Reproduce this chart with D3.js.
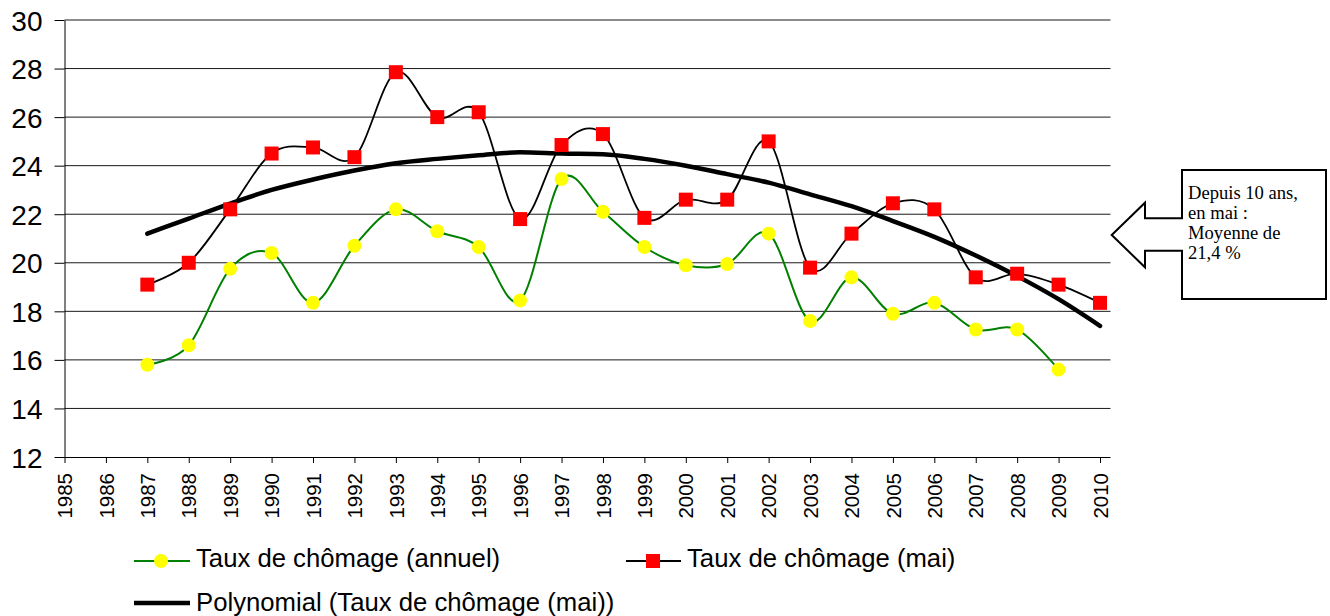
<!DOCTYPE html>
<html><head><meta charset="utf-8">
<script src="https://cdn.jsdelivr.net/npm/d3@7/dist/d3.min.js"></script>
<style>body{margin:0;background:#fff}svg{display:block}</style>
</head><body>
<svg id="c" width="1330" height="616"></svg>
<script>
const years = d3.range(1985, 2011);
const yTicks = [12,14,16,18,20,22,24,26,28,30];
const annualYears = d3.range(1987, 2010);
const annual = [15.8,16.6,19.75,20.4,18.35,20.7,22.2,21.3,20.65,18.45,23.45,22.1,20.65,19.9,19.95,21.2,17.6,19.4,17.9,18.35,17.25,17.25,15.6];
const maiYears = d3.range(1987, 2011);
const mai = [19.1,20.0,22.2,24.5,24.75,24.35,27.85,26.0,26.2,21.8,24.85,25.3,21.85,22.6,22.6,25.0,19.8,21.2,22.45,22.2,19.4,19.55,19.1,18.35];
const trend = [21.2,21.82,22.44,23.0,23.43,23.8,24.1,24.28,24.43,24.55,24.5,24.47,24.28,24.0,23.65,23.3,22.82,22.33,21.72,21.07,20.3,19.45,18.5,17.4];
const legendLabels = ["Taux de chômage (annuel)","Taux de chômage (mai)","Polynomial (Taux de chômage (mai))"];
const calloutLines = ["Depuis 10 ans,","en mai :","Moyenne de","21,4 %"];

const svg = d3.select("#c");
const x = d3.scaleLinear().domain([1985, 2010]).range([64.5, 1100]);
const y = d3.scaleLinear().domain([12, 30]).range([457, 20]);
const xEnd = 1110.5;

// gridlines
svg.append("g").selectAll("line").data(yTicks.slice(1)).join("line")
  .attr("x1", 64.5).attr("x2", xEnd).attr("y1", d => y(d)).attr("y2", d => y(d))
  .attr("stroke", "#1a1a1a").attr("stroke-width", 1);

// y axis
const yAxis = svg.append("g").attr("transform", "translate(64.5,0)")
  .call(d3.axisLeft(y).tickValues(yTicks).tickSize(10).tickPadding(12).tickSizeOuter(0));
yAxis.select(".domain").attr("stroke", "#000");
yAxis.selectAll(".tick line").attr("stroke", "#000");
yAxis.selectAll("text").attr("font-family", "Liberation Sans, Arial, sans-serif")
  .attr("font-size", 28).attr("fill", "#000").attr("dy", "0.36em");

// x axis
const xAxis = svg.append("g").attr("transform", "translate(0,457)")
  .call(d3.axisBottom(x).tickValues(years).tickFormat(d3.format("d")).tickSize(6).tickSizeOuter(0));
xAxis.select(".domain").attr("d", `M64.5,0.5H${xEnd}`).attr("stroke", "#000");
xAxis.selectAll(".tick line").attr("stroke", "#000");
xAxis.selectAll("text")
  .attr("font-family", "Liberation Sans, Arial, sans-serif").attr("font-size", 20.5).attr("fill", "#000")
  .attr("text-anchor", "end").attr("transform", "translate(0,16) rotate(-90)")
  .attr("x", 0).attr("y", 0).attr("dy", "0.35em");

const curve = d3.curveCatmullRom.alpha(0);
const line = d3.line().x(d => x(d[0])).y(d => y(d[1])).curve(curve);

const annualPts = annualYears.map((yr, i) => [yr, annual[i]]);
const maiPts = maiYears.map((yr, i) => [yr, mai[i]]);
const trendPts = maiYears.map((yr, i) => [yr, trend[i]]);

svg.append("path").attr("d", line(annualPts)).attr("fill", "none").attr("stroke", "#008000").attr("stroke-width", 2);
svg.append("path").attr("d", line(maiPts)).attr("fill", "none").attr("stroke", "#000").attr("stroke-width", 1.8);
svg.append("path").attr("d", d3.line().x(d => x(d[0])).y(d => y(d[1])).curve(d3.curveMonotoneX)(trendPts))
  .attr("fill", "none").attr("stroke", "#000").attr("stroke-width", 4.5).attr("stroke-linecap", "round");

svg.append("g").selectAll("circle").data(annualPts).join("circle")
  .attr("cx", d => x(d[0])).attr("cy", d => y(d[1])).attr("r", 7).attr("fill", "#ffff00");
svg.append("g").selectAll("rect").data(maiPts).join("rect")
  .attr("x", d => x(d[0]) - 7).attr("y", d => y(d[1]) - 7).attr("width", 14).attr("height", 14).attr("fill", "#ff0000");

// legend
const lg = svg.append("g").attr("font-family", "Liberation Sans, Arial, sans-serif").attr("font-size", 25.7).attr("fill", "#000");
lg.append("line").attr("x1", 134).attr("x2", 190).attr("y1", 561).attr("y2", 561).attr("stroke", "#008000").attr("stroke-width", 2);
lg.append("circle").attr("cx", 161).attr("cy", 561).attr("r", 7).attr("fill", "#ffff00");
lg.append("text").attr("x", 196).attr("y", 567).text(legendLabels[0]);
lg.append("line").attr("x1", 626).attr("x2", 681).attr("y1", 561).attr("y2", 561).attr("stroke", "#000").attr("stroke-width", 2);
lg.append("rect").attr("x", 646).attr("y", 554).attr("width", 14).attr("height", 14).attr("fill", "#ff0000");
lg.append("text").attr("x", 687).attr("y", 567).text(legendLabels[1]);
lg.append("line").attr("x1", 134).attr("x2", 190).attr("y1", 603).attr("y2", 603).attr("stroke", "#000").attr("stroke-width", 4.5);
lg.append("text").attr("x", 196).attr("y", 611).text(legendLabels[2]);

// callout
svg.append("path")
  .attr("d", "M1182,170H1326V299H1182V250.7H1145V267.3L1111.7,235L1145,202.7V218.3H1182Z")
  .attr("fill", "#fff").attr("stroke", "#000").attr("stroke-width", 2);
svg.append("g").selectAll("text").data(calloutLines).join("text")
  .attr("x", 1188).attr("y", (d, i) => 198.5 + i * 20)
  .attr("font-family", "Liberation Serif, Times New Roman, serif").attr("font-size", 18.6).attr("fill", "#000")
  .text(d => d);
</script>
</body></html>
